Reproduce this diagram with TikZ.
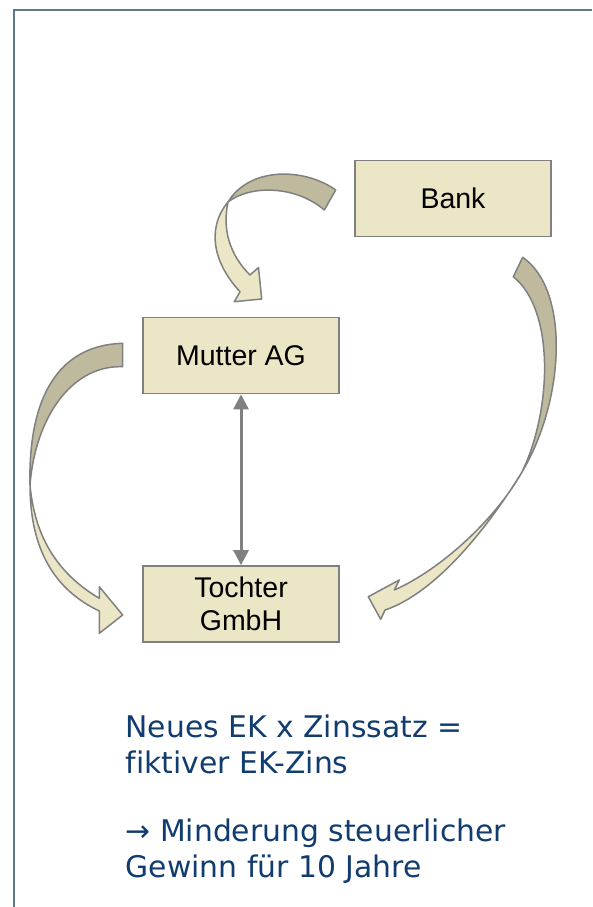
\documentclass[tikz,border=0pt]{standalone}
\usepackage{fontspec}
\setmainfont{Liberation Sans}
\newfontfamily\verdfont[Ligatures=NoCommon]{DejaVu Sans}
\usetikzlibrary{arrows.meta}
\definecolor{boxfill}{RGB}{235,230,198}
\definecolor{darkface}{RGB}{191,186,157}
\definecolor{edgegray}{RGB}{128,128,128}
\definecolor{framecol}{RGB}{96,118,138}
\definecolor{textblue}{RGB}{17,60,112}
\begin{document}
\begin{tikzpicture}[x=1pt,y=-1pt,
  entity/.style={draw=edgegray, line width=1.8pt, fill=boxfill, minimum width=196pt, minimum height=76pt, inner sep=0pt, font=\fontsize{28.5}{33}\selectfont, align=center},
  backface/.style={draw=edgegray, line width=1.5pt, line join=round, fill=darkface},
  frontface/.style={draw=edgegray, line width=1.5pt, line join=round, fill=boxfill},
  note/.style={anchor=base west, inner sep=0pt, text=textblue, font=\verdfont\fontsize{29.8}{36}\selectfont},
  linkarrow/.style={draw=edgegray, line width=3pt, {Triangle[width=15pt,length=15pt]}-{Triangle[width=15pt,length=15pt]}}
]
\useasboundingbox (0,0) rectangle (592,907);
\fill[white] (0,0) rectangle (592,907);
% frame
\coordinate (fbl) at (14,907);
\coordinate (ftl) at (14,10);
\coordinate (ftr) at (592,10);
\draw[framecol, line width=2pt] (fbl) -- (ftl) -- (ftr);

% boxes
\node[entity] (bank) at (453,198.5) {Bank};
\node[entity] (mutter) at (241,355.5) {Mutter AG};
\node[entity] (tochter) at (241,604) {Tochter\\GmbH};

% double arrow
\draw[linkarrow] (mutter.south) -- (tochter.north);

% curved arrow Bank -> Mutter AG
\path[backface] (335.7,190) .. controls (305,168) and (250,166) .. (228,202)
  .. controls (250,185) and (295,185) .. (324.3,210) -- cycle;
\path[frontface] (228,202) .. controls (205,230) and (215,265) .. (240,291.7)
  -- (234.3,301.7) -- (261.7,299) -- (258.5,267.5) -- (250,275)
  .. controls (230,255) and (222,230) .. (228,202) -- cycle;

% curved arrow Bank -> Tochter GmbH
\path[backface] (522.7,257.3) .. controls (570,290) and (565,400) .. (522,472)
  .. controls (552,410) and (555,310) .. (513.3,276.7) -- cycle;
\path[frontface] (522,472) .. controls (480,540) and (430,595) .. (385,610)
  -- (380.7,619.3) -- (368.3,596.7) -- (399.3,580) -- (394.3,590)
  .. controls (440,570) and (495,520) .. (522,472) -- cycle;

% curved arrow Mutter AG -> Tochter GmbH
\path[backface] (122.7,343.3) .. controls (60,345) and (28,395) .. (30,485)
  .. controls (35,420) and (70,365) .. (122.7,366.7) -- cycle;
\path[frontface] (30,485) .. controls (30,550) and (55,590) .. (99.3,611)
  -- (99.3,633.3) -- (122.7,615) -- (99.3,586.7) -- (99.3,598.3)
  .. controls (60,575) and (35,540) .. (30,485) -- cycle;

% notes
\node[note] (n1) at (125.5,737) {Neues EK x Zinssatz =};
\node[note] (n2) at (125.5,773) {fiktiver EK-Zins};
\node[note] (n3) at (125.5,841) {→ Minderung steuerlicher};
\node[note] (n4) at (125.5,877) {Gewinn für 10 Jahre};
\end{tikzpicture}
\end{document}
